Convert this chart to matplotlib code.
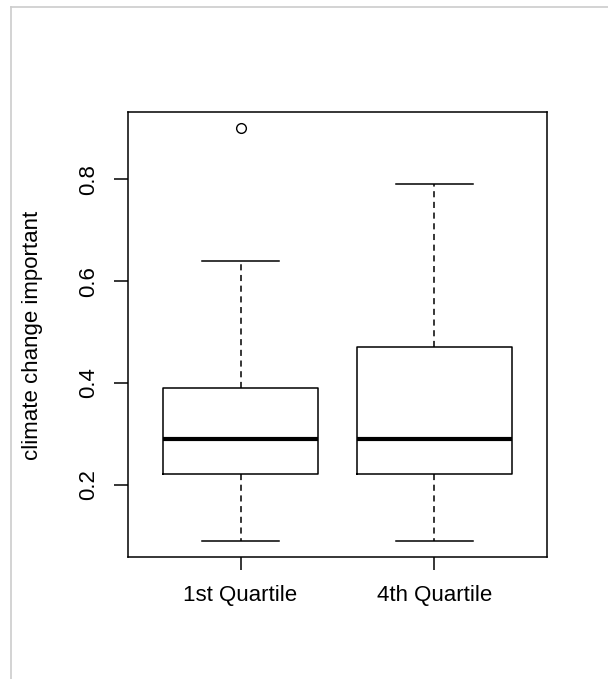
import matplotlib
matplotlib.use("Agg")
import matplotlib.pyplot as plt
from matplotlib.lines import Line2D

# ---- data ----
categories = ["1st Quartile", "4th Quartile"]
whisker_low = [0.09, 0.09]
q1 = [0.22, 0.22]
median = [0.29, 0.29]
q3 = [0.39, 0.47]
whisker_high = [0.64, 0.79]
outliers = [[0.90], []]
yticks = [0.2, 0.4, 0.6, 0.8]
ylabel = "climate change important"

plt.rcParams['font.family'] = ['Liberation Sans', 'DejaVu Sans']

W, H = 608, 679
fig = plt.figure(figsize=(W / 100, H / 100), dpi=100)
ax = fig.add_axes([128 / W, 1 - 557 / H, (547 - 128) / W, (557 - 112) / H])

stats = []
for i, c in enumerate(categories):
    stats.append(dict(label=c, whislo=whisker_low[i], q1=q1[i], med=median[i],
                      q3=q3[i], whishi=whisker_high[i], fliers=outliers[i]))

ax.bxp(stats, positions=[1, 2], widths=0.8, showfliers=True,
       boxprops=dict(color='black', linewidth=1.1),
       medianprops=dict(color='black', linewidth=3.0, solid_capstyle='butt'),
       whiskerprops=dict(color='black', linewidth=1.1, linestyle=(0, (4, 3))),
       capprops=dict(color='black', linewidth=1.1),
       capwidths=0.4,
       flierprops=dict(marker='o', markerfacecolor='none', markeredgecolor='black',
                       markersize=7, markeredgewidth=1.0))

lo = min(whisker_low)
hi = max(max(whisker_high), max(max(o) for o in outliers if o))
pad = (hi - lo) * 0.04
ax.set_ylim(lo - pad, hi + pad)
ax.set_xlim(0.42, 2.58)

fs = 16
ax.set_yticks(yticks)
ax.set_yticklabels([f"{v:.1f}" for v in yticks], rotation=90, va='center', fontsize=fs)
ax.set_xticks([1, 2])
ax.set_xticklabels(categories, fontsize=fs)
ax.tick_params(axis='y', length=10, width=1.1, pad=11, colors='black')
ax.tick_params(axis='x', length=9, width=1.1, pad=11, colors='black')
for s in ax.spines.values():
    s.set_linewidth(1.1)
    s.set_color('black')

fig.text(33 / W, 1 - 335 / H, ylabel, rotation=90, ha='center', va='center', fontsize=fs)

# light gray frame of the original viewer
fig.add_artist(Line2D([11 / W, 1], [1 - 7 / H, 1 - 7 / H], transform=fig.transFigure,
                      color='#cccccc', linewidth=1.2))
fig.add_artist(Line2D([11 / W, 11 / W], [0, 1 - 7 / H], transform=fig.transFigure,
                      color='#cccccc', linewidth=1.2))

fig.savefig("out.png", dpi=100)
